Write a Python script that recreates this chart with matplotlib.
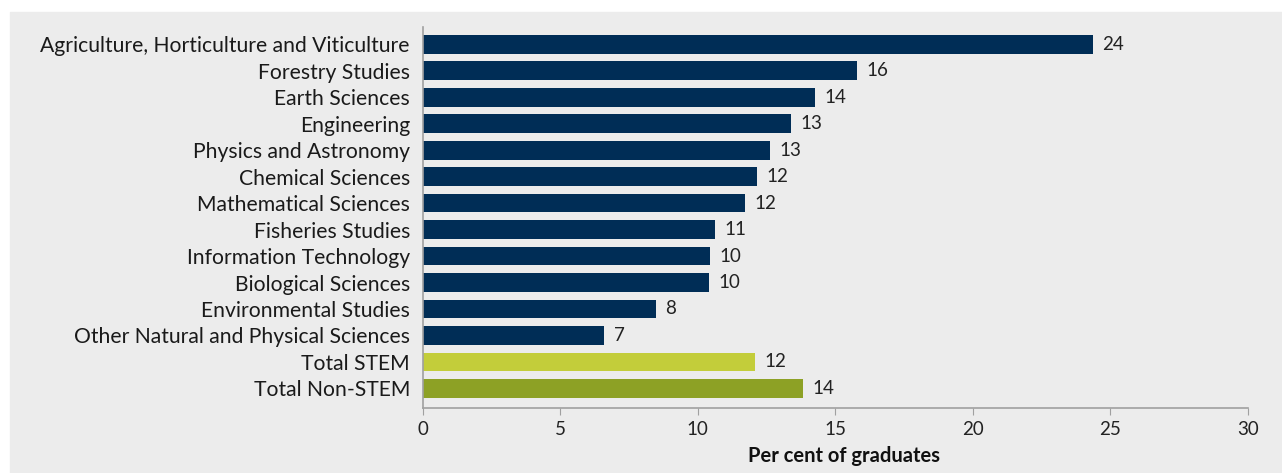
import matplotlib.pyplot as plt
from matplotlib.patches import Rectangle

fields = ["Agriculture, Horticulture and Viticulture", "Forestry Studies", "Earth Sciences",
          "Engineering", "Physics and Astronomy", "Chemical Sciences", "Mathematical Sciences",
          "Fisheries Studies", "Information Technology", "Biological Sciences",
          "Environmental Studies", "Other Natural and Physical Sciences",
          "Total STEM", "Total Non-STEM"]
share = [24.36, 15.79, 14.26, 13.39, 12.63, 12.15, 11.72,
         10.63, 10.45, 10.41, 8.48, 6.60, 12.08, 13.83]
colours = ["#002d56"] * 12 + ["#c3cd3a", "#8da125"]

plt.rcParams['font.family'] = ['Lato', 'DejaVu Sans']

W, H = 1282, 473
fig = plt.figure(figsize=(W / 100, H / 100), dpi=100, facecolor="white")
# grey panel behind everything, leaving a thin white margin top and left
fig.patches.append(Rectangle((10 / W, 0), 1 - 10 / W, (H - 12) / H,
                             transform=fig.transFigure, color="#ececec", zorder=-10))

ax = fig.add_axes([422.5 / W, (H - 408.3) / H, (1248 - 422.5) / W, (408.3 - 26.7) / H])
ax.set_facecolor("none")

y = list(range(len(fields)))
ax.barh(y, share, height=0.71, color=colours)
for yi, v in zip(y, share):
    ax.text(v + 0.35, yi, f"{v:.0f}", va="center", ha="left", fontsize=13.5, color="#222222")

ax.set_xlim(0, 30)
ax.set_ylim(13.75, -0.66)
ax.set_xticks(range(0, 31, 5))
ax.set_yticks(y)
ax.set_yticklabels(fields, fontsize=15.2, color="#1a1a1a")
ax.tick_params(axis="y", length=0, pad=9)
ax.tick_params(axis="x", length=5, color="#a0a0a0", labelsize=13.5, labelcolor="#222222", pad=4)

for side in ["top", "right"]:
    ax.spines[side].set_visible(False)
for side in ["left", "bottom"]:
    ax.spines[side].set_color("#a0a0a0")
    ax.spines[side].set_linewidth(1.2)

ax.set_xlabel("Per cent of graduates", fontsize=14.5, fontweight="bold", color="#111111")
ax.xaxis.set_label_coords(0.51, -0.1)

fig.savefig("out.png", dpi=100, facecolor=fig.get_facecolor())
